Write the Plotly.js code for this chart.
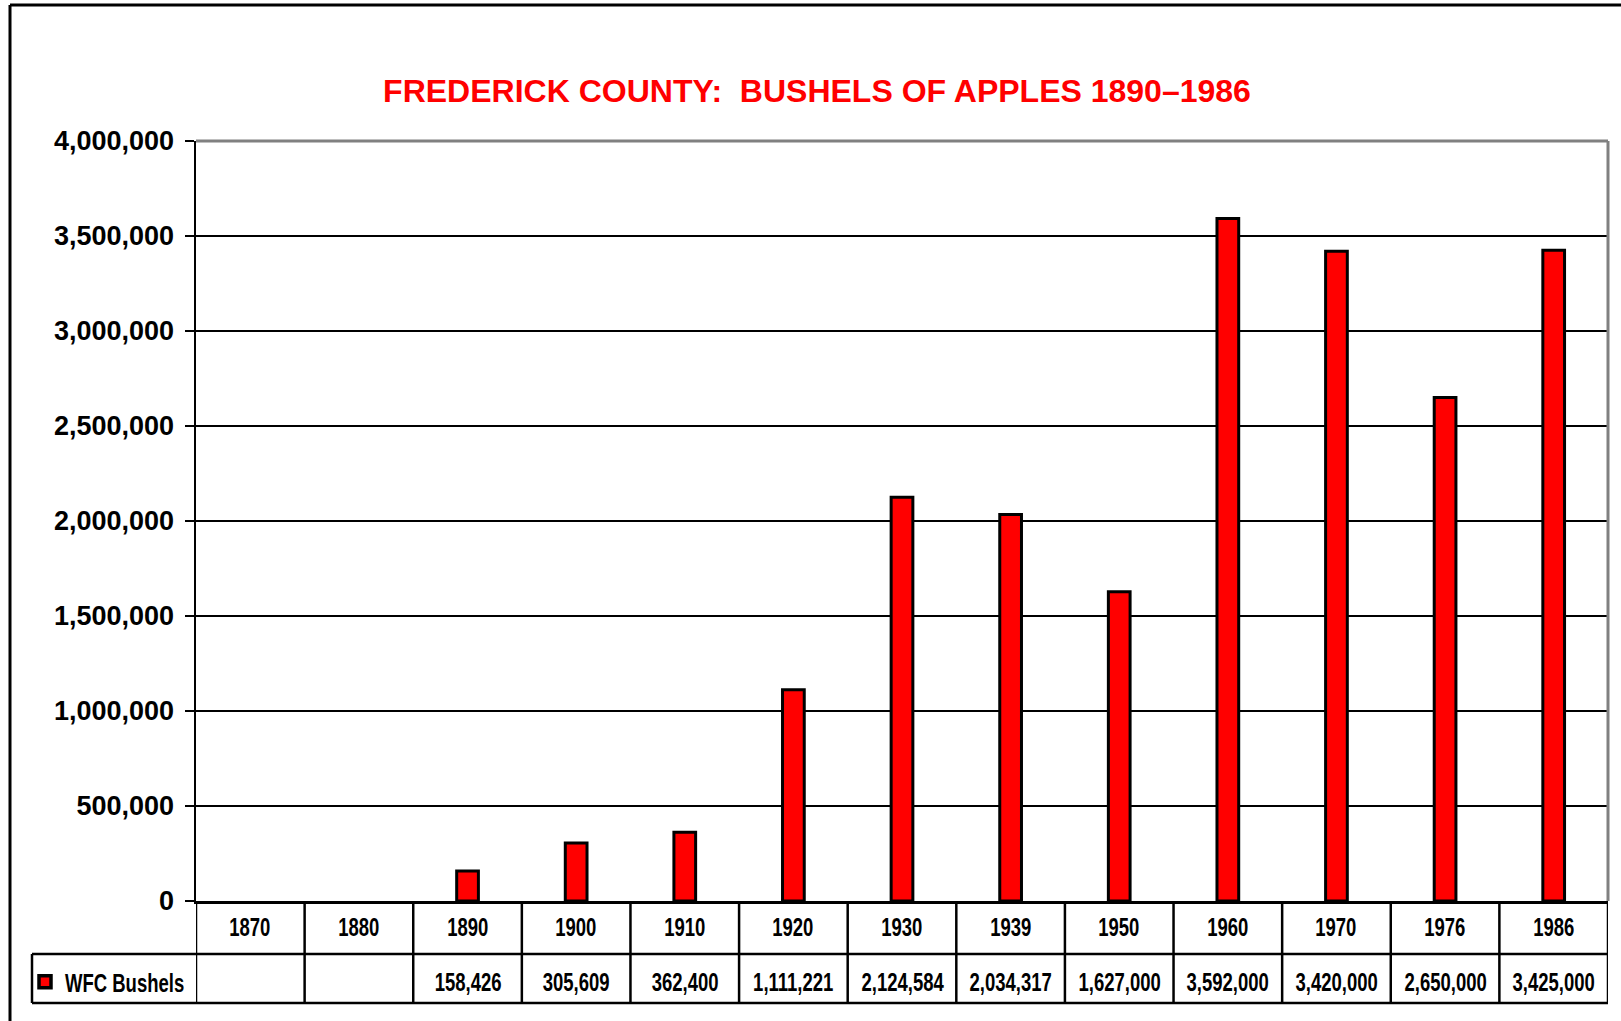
<!DOCTYPE html>
<html>
<head>
<meta charset="utf-8">
<script src="https://cdn.plot.ly/plotly-3.0.1.min.js"></script>
<style>
  body { margin: 0; background: #fff; }
  #chart { width: 1621px; height: 1021px; }
  /* narrow look for the table text, like Arial Narrow */
  #chart .annotation-text, #chart .legendtext { transform-box: fill-box; transform: scaleX(0.74); }
  #chart .annotation-text { transform-origin: 50% 50%; }
  #chart .legendtext { transform-origin: 0 50%; }
  #chart .legendpoints path { stroke-width: 3.5px !important; }
</style>
</head>
<body>
<div id="chart"></div>
<script>
// data
const years = ['1870', '1880', '1890', '1900', '1910', '1920', '1930', '1939', '1950', '1960', '1970', '1976', '1986'];
const bushels = [null, null, 158426, 305609, 362400, 1111221, 2124584, 2034317, 1627000, 3592000, 3420000, 2650000, 3425000];
const yTicks = [0, 500000, 1000000, 1500000, 2000000, 2500000, 3000000, 3500000, 4000000];
const seriesName = 'WFC Bushels';
const chartTitle = 'FREDERICK COUNTY:\u00a0 BUSHELS OF APPLES 1890\u20131986';

// page geometry (pixels)
const W = 1621, H = 1021;
const mL = 196, mR = 13, mT = 141, mB = 120;
const plotW = W - mL - mR, plotH = H - mT - mB;
const px = x => (x - mL) / plotW;          // pixel x -> paper x
const py = y => (H - mB - y) / plotH;      // pixel y -> paper y

const sans = 'Liberation Sans, Arial, sans-serif';

const trace = {
  type: 'bar',
  x: years,
  y: bushels,
  name: seriesName,
  width: 0.2,
  marker: { color: '#ff0000', line: { color: '#000', width: 3 } },
  hoverinfo: 'x+y'
};

// table rows under the plot (category axes take the category index)
const rowYear = py(927), rowVal = py(982);
const cellFont = { family: sans, size: 25, color: '#000', weight: 'bold' };
const annotations = [];
years.forEach((yr, i) => {
  annotations.push({
    x: i, xref: 'x', y: rowYear, yref: 'paper',
    text: yr, showarrow: false, yanchor: 'middle', font: cellFont
  });
  if (bushels[i] !== null) {
    annotations.push({
      x: i, xref: 'x', y: rowVal, yref: 'paper',
      text: bushels[i].toLocaleString('en-US'), showarrow: false, yanchor: 'middle', font: cellFont
    });
  }
});

const black = { color: '#000', width: 2.5 };
const shapes = [
  // grey plot border top and right
  { type: 'line', xref: 'paper', yref: 'paper', x0: 0, x1: 1, y0: 1, y1: 1, line: { color: '#808080', width: 3 }, layer: 'above' },
  { type: 'line', xref: 'paper', yref: 'paper', x0: 1, x1: 1, y0: 0, y1: 1, line: { color: '#808080', width: 3 }, layer: 'above' },
  // table horizontals
  { type: 'line', xref: 'paper', yref: 'paper', x0: px(32), x1: 1, y0: py(954), y1: py(954), line: black },
  { type: 'line', xref: 'paper', yref: 'paper', x0: px(32), x1: 1, y0: py(1003), y1: py(1003), line: black },
  // legend cell left edge
  { type: 'line', xref: 'paper', yref: 'paper', x0: px(32), x1: px(32), y0: py(954), y1: py(1003), line: black },
  // outer frame
  { type: 'line', xref: 'paper', yref: 'paper', x0: px(10), x1: px(1640), y0: py(5), y1: py(5), line: { color: '#000', width: 3 } },
  { type: 'line', xref: 'paper', yref: 'paper', x0: px(10), x1: px(10), y0: py(5), y1: py(1040), line: { color: '#000', width: 3 } }
];
for (let i = 0; i <= years.length; i++) {
  shapes.push({ type: 'line', xref: 'x', yref: 'paper', x0: i - 0.5, x1: i - 0.5, y0: py(1003), y1: 0, line: black });
}

const layout = {
  width: W, height: H,
  margin: { l: mL, r: mR, t: mT, b: mB },
  paper_bgcolor: '#fff', plot_bgcolor: '#fff',
  title: {
    text: chartTitle,
    x: 817 / W, xref: 'container', xanchor: 'center',
    y: 1 - 91 / H, yref: 'container', yanchor: 'middle',
    font: { family: sans, size: 32, color: '#ff0000', weight: 'bold' }
  },
  xaxis: {
    type: 'category', categoryorder: 'array', categoryarray: years,
    range: [-0.5, years.length - 0.5],
    showticklabels: false, ticks: '',
    showgrid: false, zeroline: false,
    showline: true, linecolor: '#000', linewidth: 2.5
  },
  yaxis: {
    range: [0, 4000000],
    tickmode: 'array', tickvals: yTicks,
    ticktext: yTicks.map(v => v.toLocaleString('en-US')),
    ticks: 'outside', ticklen: 9, tickwidth: 2.5, tickcolor: '#000',
    ticklabelstandoff: 5,
    tickfont: { family: sans, size: 27, color: '#000', weight: 'bold' },
    showgrid: true, gridcolor: '#000', gridwidth: 2,
    zeroline: false,
    showline: true, linecolor: '#000', linewidth: 2.5
  },
  showlegend: true,
  legend: {
    x: px(25), xanchor: 'left', y: py(982), yanchor: 'middle',
    bgcolor: 'rgba(0,0,0,0)', borderwidth: 0,
    font: cellFont
  },
  annotations: annotations,
  shapes: shapes
};

Plotly.newPlot('chart', [trace], layout, { displayModeBar: false, staticPlot: true });
</script>
</body>
</html>
